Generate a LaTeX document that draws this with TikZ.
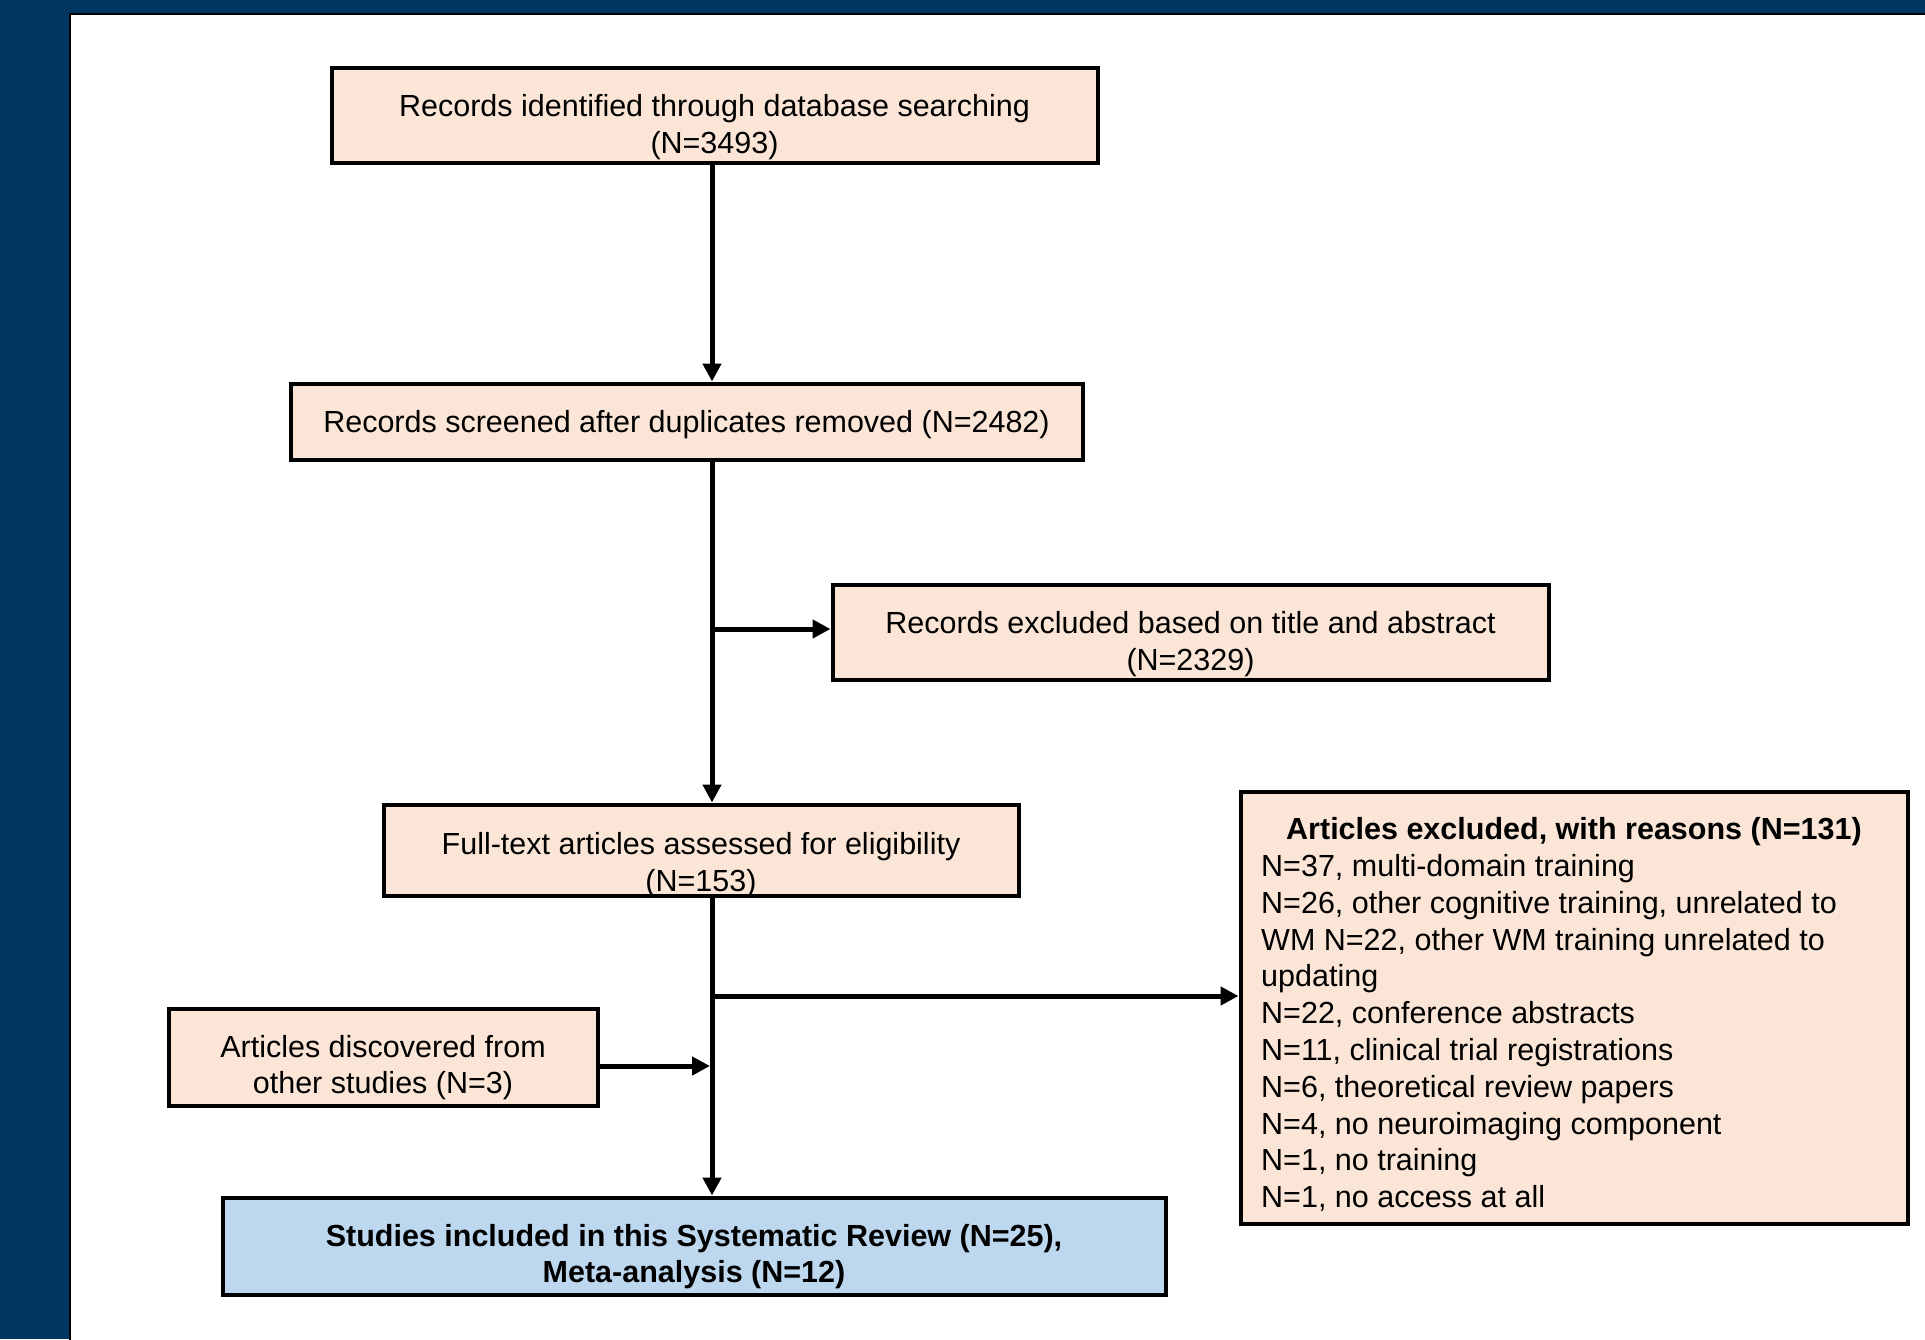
\documentclass[tikz,border=0pt]{standalone}
\usepackage{fontspec}
\setmainfont{Liberation Sans}
\usetikzlibrary{arrows.meta}
\definecolor{navy}{HTML}{003660}
\definecolor{peach}{HTML}{FBE5D6}
\definecolor{lblue}{HTML}{BDD7EE}
\begin{document}
\begin{tikzpicture}[x=1pt,y=-1pt,
  box/.style={draw=black, line width=4pt, fill=peach, inner sep=0pt},
  bluebox/.style={box, fill=lblue},
  txt/.style={font=\fontsize{30.5}{36.8}\selectfont, align=center, inner sep=0pt},
  listtxt/.style={txt, align=left},
  arr/.style={line width=5pt, -{Triangle[length=18pt,width=18pt]}}]
\useasboundingbox (0,0) rectangle (1925,1339);
\fill[navy] (0,0) rectangle (1925,1339);
\begin{scope}
\clip (0,0) rectangle (1925,1339);
\draw[fill=white, line width=2.5pt] (70,14) rectangle (1960,1380);
\end{scope}

% boxes
\node[box, minimum width=766pt, minimum height=95pt] (b1) at (714.5,115) {};
\node[txt, yshift=-12.5pt] (b1t) at (b1.center) {Records identified through database searching\\(N=3493)};

\node[box, minimum width=792pt, minimum height=76pt] (b2) at (686.5,421.5) {};
\node[txt, yshift=-3.5pt] (b2t) at (b2.center) {Records screened after duplicates removed (N=2482)};

\node[box, minimum width=716pt, minimum height=95pt] (b3) at (1190.5,632) {};
\node[txt, yshift=-12pt] (b3t) at (b3.center) {Records excluded based on title and abstract\\(N=2329)};

\node[box, minimum width=635pt, minimum height=91pt] (b4) at (701,850) {};
\node[txt, yshift=-15pt] (b4t) at (b4.center) {Full-text articles assessed for eligibility\\(N=153)};

\node[box, minimum width=667pt, minimum height=432pt] (b5) at (1574,1007.5) {};
\node[listtxt, anchor=west] (b5t) at (1261,1014.5) {\hspace*{25pt}\textbf{Articles excluded, with reasons (N=131)}\\
N=37, multi-domain training\\
N=26, other cognitive training, unrelated to\\
WM N=22, other WM training unrelated to\\
updating\\
N=22, conference abstracts\\
N=11, clinical trial registrations\\
N=6, theoretical review papers\\
N=4, no neuroimaging component\\
N=1, no training\\
N=1, no access at all};

\node[box, minimum width=429pt, minimum height=97pt] (bl) at (383,1057) {};
\node[txt, yshift=-10.5pt] (blt) at (bl.center) {Articles discovered from\\other studies (N=3)};

\node[bluebox, minimum width=943pt, minimum height=97pt] (b6) at (694,1246) {};
\node[txt, font=\fontsize{30.5}{36.8}\selectfont\bfseries, yshift=-10.5pt] (b6t) at (b6.center) {Studies included in this Systematic Review (N=25),\\Meta-analysis (N=12)};

% connectors
\coordinate (sp) at (712,0);
\coordinate (j1) at (712,629);
\coordinate (j2) at (712,996);
\coordinate (j3) at (710,1066);
\draw[arr] (b1.south -| sp) -- (b2.north -| sp);
\draw[arr] (b2.south -| sp) -- (b4.north -| sp);
\draw[arr] (j1) -- (j1 -| b3.west);
\draw[arr] (b4.south -| sp) -- (b6.north -| sp);
\draw[arr] (j2) -- (j2 -| b5.west);
\draw[arr] (j3 -| bl.east) -- (j3);
\end{tikzpicture}
\end{document}
